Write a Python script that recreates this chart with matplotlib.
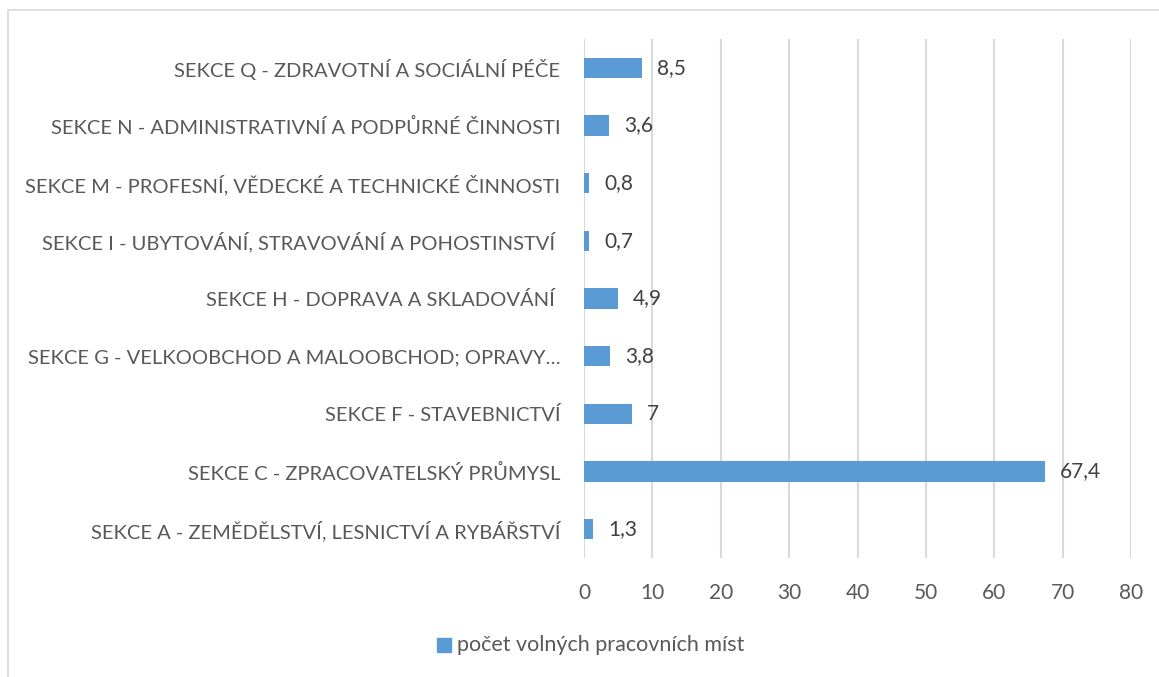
import matplotlib.pyplot as plt
from matplotlib.patches import Rectangle

# Data (bottom to top as drawn)
categories = [
    "SEKCE A - ZEMĚDĚLSTVÍ, LESNICTVÍ A RYBÁŘSTVÍ",
    "SEKCE C - ZPRACOVATELSKÝ PRŮMYSL",
    "SEKCE F - STAVEBNICTVÍ",
    "SEKCE G - VELKOOBCHOD A MALOOBCHOD; OPRAVY…",
    "SEKCE H - DOPRAVA A SKLADOVÁNÍ ",
    "SEKCE I - UBYTOVÁNÍ, STRAVOVÁNÍ A POHOSTINSTVÍ ",
    "SEKCE M - PROFESNÍ, VĚDECKÉ A TECHNICKÉ ČINNOSTI",
    "SEKCE N - ADMINISTRATIVNÍ A PODPŮRNÉ ČINNOSTI",
    "SEKCE Q - ZDRAVOTNÍ A SOCIÁLNÍ PÉČE",
]
values = [1.3, 67.4, 7, 3.8, 4.9, 0.7, 0.8, 3.6, 8.5]
x_ticks = [0, 10, 20, 30, 40, 50, 60, 70, 80]
series_name = "počet volných pracovních míst"

bar_color = "#5B9BD5"
text_color = "#595959"
grid_color = "#D9D9D9"

plt.rcParams['font.family'] = ['Lato', 'DejaVu Sans']

W, H = 1159, 677
fig = plt.figure(figsize=(W / 100, H / 100), dpi=100)

# chart border (runs past the right / bottom edge, as in the crop)
fig.patches.append(Rectangle((8 / W, -0.1), 1.2, 1 - 10 / H + 0.1, transform=fig.transFigure,
                             fill=False, edgecolor="#D9D9D9", linewidth=1.2))

left, right = 584 / W, 1131 / W
bottom, top = 1 - 558 / H, 1 - 39 / H
ax = fig.add_axes([left, bottom, right - left, top - bottom])

y = range(len(categories))
ax.barh(y, values, height=0.35, color=bar_color, zorder=3)

ax.set_xlim(0, 80)
ax.set_ylim(-0.5, len(categories) - 0.5)
ax.set_xticks(x_ticks)
ax.set_yticks(list(y))
ax.set_yticklabels(categories)
ax.tick_params(axis='y', length=0, pad=17, labelsize=14.5, labelcolor=text_color)
ax.tick_params(axis='x', length=0, pad=18, labelsize=15, labelcolor=text_color)
ax.grid(axis='x', color=grid_color, linewidth=1.5, zorder=0)
for s in ax.spines.values():
    s.set_visible(False)

for yi, v in zip(y, values):
    label = f"{v:g}".replace(".", ",")
    ax.annotate(label, (v, yi), xytext=(11, 0), textcoords="offset points",
                va="center", ha="left", fontsize=15, color="#404040")

# legend
lx, ly = 444 / W, 1 - 645 / H
fig.patches.append(Rectangle((lx - 7 / W, ly - 7 / H), 14 / W, 14 / H,
                             transform=fig.transFigure, color=bar_color))
fig.text(457 / W, ly, series_name, fontsize=15.5, color=text_color, va="center", ha="left")

fig.savefig("out.png", dpi=100)
